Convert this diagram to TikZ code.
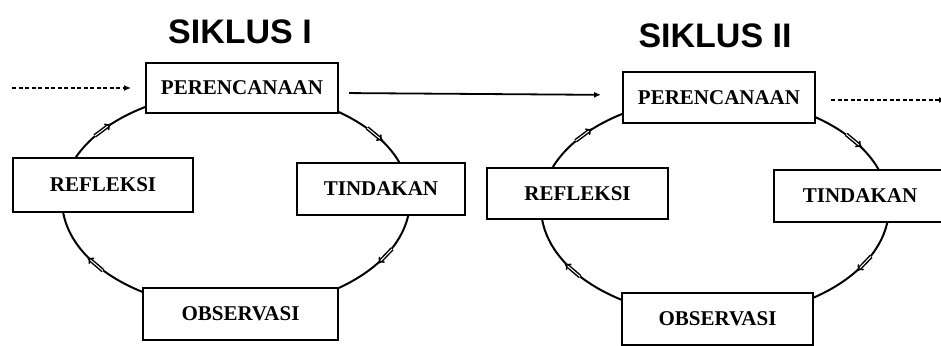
\documentclass[tikz,border=0pt]{standalone}
\usepackage{fontspec}
\setmainfont{Liberation Serif}
\newfontfamily\titlefont{Liberation Sans}
\usetikzlibrary{arrows.meta,calc}
\begin{document}
\begin{tikzpicture}[x=1pt,y=1pt,
  box/.style={draw=black, line width=2pt, fill=white, inner sep=0pt,
    font=\fontsize{21}{24}\selectfont\bfseries},
  cyc/.style={line width=2pt},
  ttl/.style={font=\titlefont\fontsize{34}{40}\selectfont\bfseries, inner sep=0pt},
  cmark/.style={line width=1.5pt, double, double distance=1pt, -{Implies}},
  link/.style={line width=1.8pt, -{Latex[length=7pt,width=6pt]}},
  dlink/.style={link, dash pattern=on 4pt off 2.5pt}
]
\useasboundingbox (0,0) rectangle (941,345);
\coordinate (c1) at (236,145);
\coordinate (c2) at (715,138);
% cycles
\draw[cyc] (c1) ellipse [x radius=174, y radius=109];
\draw[cyc] (c2) ellipse [x radius=174, y radius=110];
% direction marks, cycle I
\draw[cmark] ($(c1)+(37:174 and 109)$) ++(-39.8:-10) -- ++(-39.8:20);
\draw[cmark] ($(c1)+(-31:174 and 109)$) ++(226.2:-10) -- ++(226.2:20);
\draw[cmark] ($(c1)+(216:174 and 109)$) ++(139.2:-10) -- ++(139.2:20);
\draw[cmark] ($(c1)+(140:174 and 109)$) ++(36.7:-10) -- ++(36.7:20);
% direction marks, cycle II
\draw[cmark] ($(c2)+(37:174 and 110)$) ++(-39.8:-10) -- ++(-39.8:20);
\draw[cmark] ($(c2)+(-31:174 and 110)$) ++(226.2:-10) -- ++(226.2:20);
\draw[cmark] ($(c2)+(215:174 and 110)$) ++(139.2:-10) -- ++(139.2:20);
\draw[cmark] ($(c2)+(139:174 and 110)$) ++(36.7:-10) -- ++(36.7:20);
% titles
\node[ttl] (t1) at (240,313.5) {SIKLUS I};
\node[ttl] (t2) at (715,309) {SIKLUS II};
% boxes, cycle I
\node[box, minimum width=192pt, minimum height=50pt] (P1) at (242,257) {PERENCANAAN};
\node[box, minimum width=180pt, minimum height=54pt] (R1) at (103,160) {REFLEKSI};
\node[box, minimum width=168pt, minimum height=52pt] (T1) at (381,156) {TINDAKAN};
\node[box, minimum width=195pt, minimum height=52pt] (O1) at (240.5,31) {OBSERVASI};
% boxes, cycle II
\node[box, minimum width=192pt, minimum height=51pt] (P2) at (719,247.5) {PERENCANAAN};
\node[box, minimum width=181pt, minimum height=51pt] (R2) at (577.5,151.5) {REFLEKSI};
\node[box, minimum width=172pt, minimum height=52pt] (T2) at (860,149) {TINDAKAN};
\node[box, minimum width=191pt, minimum height=52pt] (O2) at (717.5,26) {OBSERVASI};
% links
\coordinate (din) at (12,257);
\coordinate (dout) at (946,245);
\draw[dlink, shorten >=14pt] (din) -- (P1.west);
\draw[link, shorten <=10pt, shorten >=21pt] ([yshift=-5pt]P1.east) -- ([yshift=2.5pt]P2.west);
\draw[dlink, shorten <=15pt] ([yshift=-2.5pt]P2.east) -- (dout);
\end{tikzpicture}
\end{document}
